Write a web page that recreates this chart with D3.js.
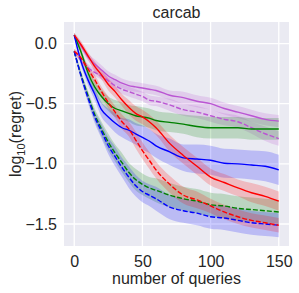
<!DOCTYPE html>
<html>
<head>
<meta charset="utf-8">
<script src="https://cdn.jsdelivr.net/npm/d3@7"></script>
<style>
  body { margin: 0; background: #fff; }
  text { font-family: Arial, "Liberation Sans", sans-serif; fill: #262626; }
</style>
</head>
<body>
<div id="chart"></div>
<script>
// number of queries (x)
const queries = [0, 5, 10, 15, 20, 25, 30, 35, 40, 45, 50, 55, 60, 70, 80, 90, 100, 110, 120, 130, 140, 150];

// log10(regret) means
const redSolid    = [0.07, -0.01, -0.10, -0.19, -0.26, -0.34, -0.40, -0.47, -0.53, -0.58, -0.61, -0.65, -0.70, -0.83, -0.93, -1.02, -1.11, -1.155, -1.20, -1.24, -1.27, -1.31];
const redDashed   = [-0.065, -0.12, -0.21, -0.30, -0.40, -0.49, -0.57, -0.65, -0.71, -0.80, -0.89, -0.97, -1.05, -1.17, -1.26, -1.30, -1.35, -1.40, -1.44, -1.47, -1.49, -1.51];
const blueSolid   = [0.07, -0.15, -0.30, -0.42, -0.55, -0.61, -0.66, -0.70, -0.72, -0.75, -0.78, -0.81, -0.85, -0.90, -0.95, -0.96, -0.97, -0.995, -1.00, -1.01, -1.02, -1.05];
const blueDashed  = [-0.065, -0.27, -0.45, -0.61, -0.73, -0.85, -0.94, -1.03, -1.11, -1.18, -1.23, -1.26, -1.29, -1.36, -1.39, -1.41, -1.44, -1.45, -1.47, -1.49, -1.50, -1.51];
const greenSolid  = [0.07, -0.07, -0.24, -0.36, -0.44, -0.50, -0.54, -0.56, -0.58, -0.60, -0.61, -0.62, -0.64, -0.655, -0.67, -0.69, -0.70, -0.70, -0.70, -0.71, -0.71, -0.71];
const greenDashed = [-0.065, -0.26, -0.43, -0.59, -0.71, -0.82, -0.91, -0.99, -1.07, -1.13, -1.17, -1.20, -1.22, -1.26, -1.29, -1.31, -1.34, -1.35, -1.37, -1.38, -1.39, -1.40];
const purpSolid   = [0.07, -0.02, -0.11, -0.17, -0.22, -0.27, -0.30, -0.33, -0.35, -0.36, -0.37, -0.38, -0.39, -0.43, -0.45, -0.48, -0.50, -0.54, -0.57, -0.60, -0.63, -0.645];
const purpDashed  = [-0.065, -0.14, -0.20, -0.24, -0.27, -0.31, -0.35, -0.38, -0.40, -0.42, -0.44, -0.47, -0.48, -0.51, -0.55, -0.57, -0.60, -0.63, -0.65, -0.70, -0.75, -0.79];

// half widths of the shaded bands
const redSolidErr    = [0.02, 0.03, 0.03, 0.04, 0.04, 0.05, 0.05, 0.05, 0.06, 0.06, 0.06, 0.06, 0.06, 0.07, 0.07, 0.07, 0.07, 0.07, 0.07, 0.08, 0.08, 0.08];
const redDashedErr   = [0.02, 0.03, 0.03, 0.04, 0.04, 0.05, 0.05, 0.06, 0.06, 0.07, 0.07, 0.07, 0.07, 0.07, 0.07, 0.07, 0.06, 0.06, 0.06, 0.06, 0.06, 0.06];
const blueSolidErr   = [0.02, 0.03, 0.04, 0.05, 0.06, 0.07, 0.08, 0.08, 0.09, 0.09, 0.10, 0.10, 0.10, 0.11, 0.11, 0.12, 0.12, 0.12, 0.12, 0.12, 0.125, 0.125];
const blueDashedErr  = [0.02, 0.03, 0.04, 0.05, 0.06, 0.07, 0.08, 0.08, 0.09, 0.09, 0.09, 0.09, 0.10, 0.10, 0.10, 0.10, 0.10, 0.10, 0.10, 0.10, 0.10, 0.10];
const greenSolidErr  = [0.02, 0.03, 0.04, 0.05, 0.06, 0.06, 0.07, 0.07, 0.07, 0.08, 0.08, 0.08, 0.08, 0.08, 0.08, 0.09, 0.09, 0.09, 0.09, 0.09, 0.09, 0.09];
const greenDashedErr = [0.02, 0.03, 0.04, 0.05, 0.06, 0.07, 0.07, 0.08, 0.08, 0.09, 0.09, 0.09, 0.10, 0.10, 0.10, 0.10, 0.10, 0.10, 0.10, 0.10, 0.10, 0.10];
const purpSolidErr   = [0.02, 0.03, 0.03, 0.04, 0.04, 0.04, 0.04, 0.04, 0.04, 0.04, 0.04, 0.04, 0.04, 0.04, 0.05, 0.05, 0.05, 0.05, 0.05, 0.05, 0.05, 0.05];
const purpDashedErr  = [0.02, 0.02, 0.03, 0.03, 0.03, 0.03, 0.04, 0.04, 0.04, 0.04, 0.04, 0.04, 0.04, 0.05, 0.05, 0.05, 0.05, 0.05, 0.05, 0.05, 0.06, 0.06];

const xTicks = [0, 50, 100, 150];
const yTicks = [0, -0.5, -1, -1.5];

const Chart = function(){
  const W = 299, H = 293,
        L = 64, R = 289, T = 22, B = 246;

  const series = [
    {mean: purpSolid,   err: purpSolidErr,   color: '#ba55d3', dash: null},
    {mean: purpDashed,  err: purpDashedErr,  color: '#ba55d3', dash: '5,2'},
    {mean: greenSolid,  err: greenSolidErr,  color: 'green',   dash: null},
    {mean: greenDashed, err: greenDashedErr, color: 'green',   dash: '5,2'},
    {mean: blueSolid,   err: blueSolidErr,   color: 'blue',    dash: null},
    {mean: blueDashed,  err: blueDashedErr,  color: 'blue',    dash: '5,2'},
    {mean: redSolid,    err: redSolidErr,    color: 'red',     dash: null},
    {mean: redDashed,   err: redDashedErr,   color: 'red',     dash: '5,2'}
  ];

  const plot = () => {
    const svg = d3.select('#chart')
      .append('svg')
      .attr('width', W)
      .attr('height', H);

    const x = d3.scaleLinear().domain([-7.5, 157.5]).range([L, R]);
    const y = d3.scaleLinear().domain([-1.683, 0.179]).range([B, T]);

    svg.append('rect')
       .attr('x', L).attr('y', T)
       .attr('width', R - L).attr('height', B - T)
       .attr('fill', '#eaeaf2');

    // grid
    const grid = svg.append('g');
    grid.selectAll('.gx').data(xTicks).enter().append('line')
        .attr('x1', d => x(d)).attr('x2', d => x(d))
        .attr('y1', T).attr('y2', B)
        .attr('stroke', '#fff').attr('stroke-width', 1.3);
    grid.selectAll('.gy').data(yTicks).enter().append('line')
        .attr('x1', L).attr('x2', R)
        .attr('y1', d => y(d)).attr('y2', d => y(d))
        .attr('stroke', '#fff').attr('stroke-width', 1.3);

    const fmt = d => d3.format('.1f')(d).replace('-', '\u2212');

    // axes, drawn with d3 and stripped to labels only
    const xAxis = svg.append('g')
       .attr('transform', `translate(0,${B})`)
       .call(d3.axisBottom(x).tickValues(xTicks).tickSize(0).tickPadding(10));
    xAxis.select('.domain').remove();
    xAxis.selectAll('text').attr('font-size', 16).attr('font-family', null).attr('fill', '#262626');

    const yAxis = svg.append('g')
       .attr('transform', `translate(${L},0)`)
       .call(d3.axisLeft(y).tickValues(yTicks).tickFormat(fmt).tickSize(0).tickPadding(7));
    yAxis.select('.domain').remove();
    yAxis.selectAll('text').attr('font-size', 16).attr('font-family', null).attr('fill', '#262626');

    const pts = s => queries.map((q, i) => ({q: q, m: s.mean[i], e: s.err[i]}));

    const area = d3.area()
      .x(d => x(d.q))
      .y0(d => y(d.m - d.e))
      .y1(d => y(d.m + d.e))
      .curve(d3.curveMonotoneX);

    const line = d3.line()
      .x(d => x(d.q))
      .y(d => y(d.m))
      .curve(d3.curveMonotoneX);

    const marks = svg.append('g');
    series.forEach(s => {
      marks.append('path')
        .attr('d', area(pts(s)))
        .attr('fill', s.color)
        .attr('fill-opacity', 0.2);
    });
    series.forEach(s => {
      marks.append('path')
        .attr('d', line(pts(s)))
        .attr('fill', 'none')
        .attr('stroke', s.color)
        .attr('stroke-width', 1.4)
        .attr('stroke-dasharray', s.dash);
    });

    svg.append('text')
       .attr('x', (L + R) / 2).attr('y', 18)
       .attr('text-anchor', 'middle')
       .attr('font-size', 16)
       .text('carcab');

    svg.append('text')
       .attr('x', (L + R) / 2).attr('y', 284)
       .attr('text-anchor', 'middle')
       .attr('font-size', 16)
       .text('number of queries');

    const yl = svg.append('text')
       .attr('transform', `translate(21,${(T + B) / 2}) rotate(-90)`)
       .attr('text-anchor', 'middle')
       .attr('font-size', 16);
    yl.append('tspan').text('log');
    yl.append('tspan').attr('font-size', 11).attr('dy', 4).text('10');
    yl.append('tspan').attr('dy', -4).text('(regret)');
  };

  return { load: plot };
}();
document.addEventListener('DOMContentLoaded', Chart.load);
</script>
</body>
</html>
